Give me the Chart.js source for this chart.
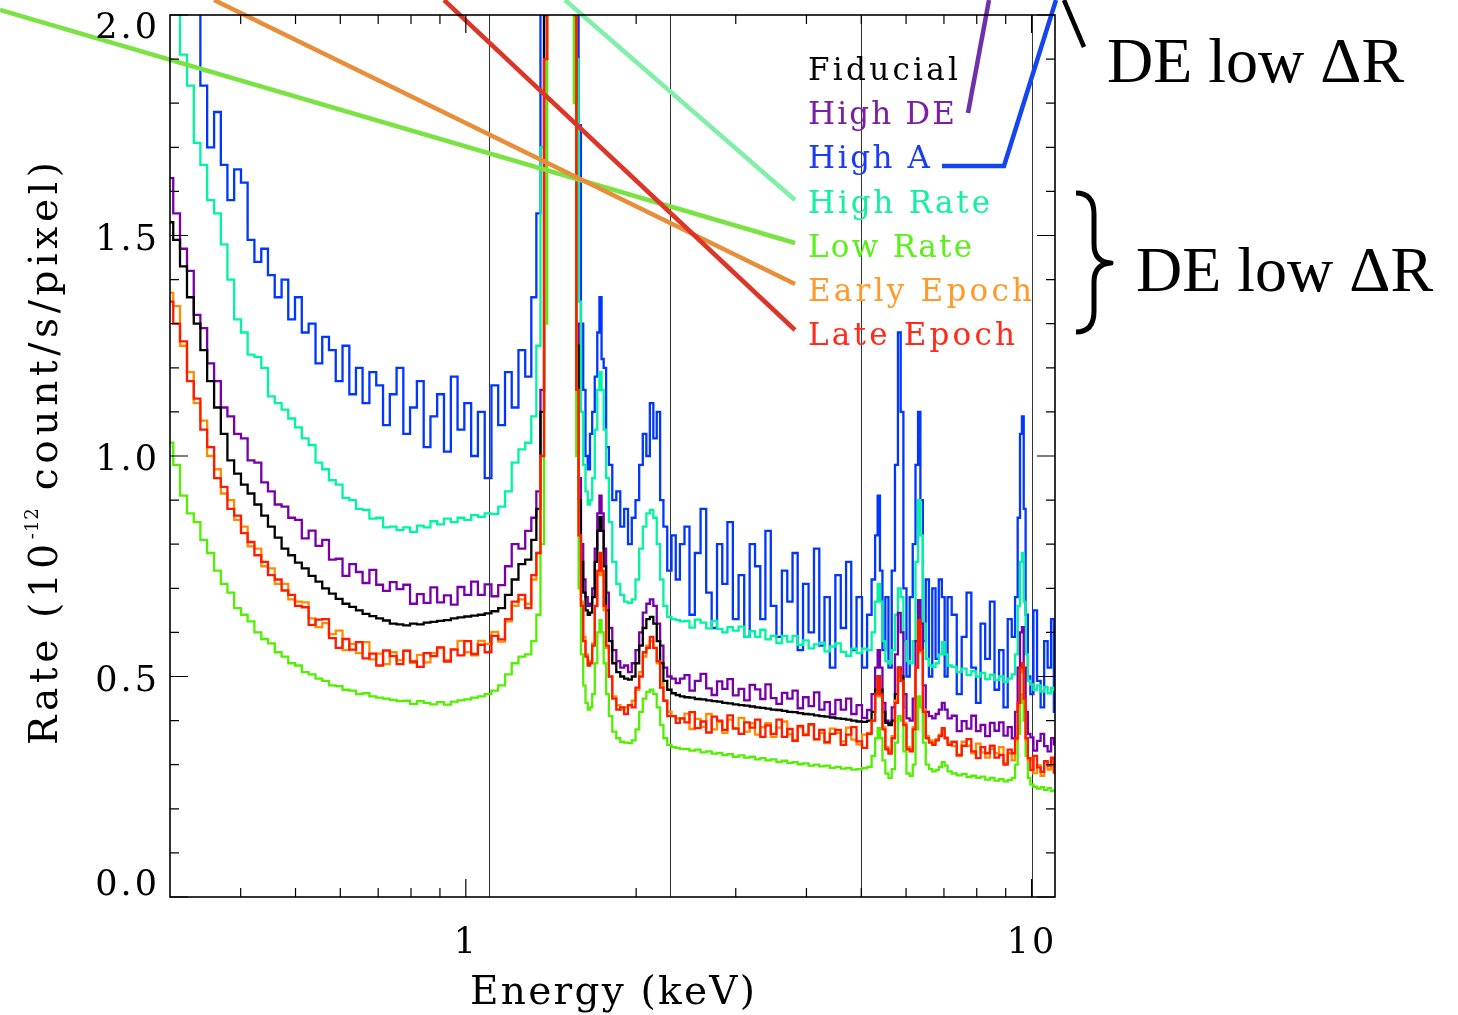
<!DOCTYPE html>
<html>
<head>
<meta charset="utf-8">
<script src="https://cdn.jsdelivr.net/npm/chart.js@4.4.0/dist/chart.umd.min.js"></script>
<style>
    html, body { margin: 0; padding: 0; background: #fff; }
    #wrap { width: 1458px; height: 1015px; }
</style>
</head>
<body>
<div id="wrap"><canvas id="spectrumChart" width="1458" height="1015"></canvas></div>
<script>
// energy grid (keV)
const energy = [
    0.300, 0.308, 0.317, 0.326, 0.335, 0.344, 0.354, 0.364, 0.374, 0.384,
    0.395, 0.406, 0.417, 0.429, 0.441, 0.453, 0.466, 0.479, 0.492, 0.506,
    0.520, 0.535, 0.550, 0.565, 0.581, 0.597, 0.614, 0.631, 0.648, 0.666,
    0.685, 0.704, 0.724, 0.744, 0.765, 0.786, 0.808, 0.831, 0.854, 0.878,
    0.902, 0.928, 0.954, 0.980, 1.008, 1.036, 1.065, 1.095, 1.125, 1.157,
    1.189, 1.222, 1.256, 1.291, 1.320,
    1.345, 1.365, 1.385, 1.400, 1.430, 1.460, 1.490, 1.520, 1.545, 1.560, 1.575, 1.590, 1.605, 1.620, 1.635, 1.650, 1.665,
    1.68, 1.70, 1.715, 1.73, 1.745, 1.76, 1.78, 1.80, 1.83, 1.86, 1.89, 1.92, 1.95, 1.98, 2.01, 2.04, 2.07, 2.10, 2.13, 2.16, 2.19, 2.22, 2.25, 2.29, 2.33, 2.37, 2.41,
    2.46, 2.51, 2.57, 2.63, 2.69, 2.75, 2.81, 2.87, 2.93, 3.00, 3.07, 3.14, 3.21, 3.28, 3.35, 3.42, 3.50, 3.58, 3.66, 3.74, 3.82, 3.90, 3.99, 4.08, 4.17, 4.26, 4.35, 4.45, 4.55, 4.65, 4.75, 4.85, 4.96, 5.07, 5.17,
    5.26, 5.32, 5.37, 5.42, 5.48, 5.55, 5.62, 5.70, 5.77, 5.84, 5.90, 5.97, 6.05, 6.13, 6.20, 6.27, 6.33, 6.39, 6.46, 6.54, 6.63, 6.72, 6.81, 6.90, 6.98, 7.06, 7.15,
    7.30, 7.45, 7.60, 7.75, 7.90, 8.05, 8.20, 8.36, 8.52, 8.68, 8.84, 9.00, 9.15, 9.30,
    9.40, 9.50, 9.58, 9.65, 9.72, 9.80, 9.90,
    10.0, 10.15, 10.3, 10.45, 10.6, 10.75, 10.9, 11.0
];

// rates, 10^-12 count/s/pixel
const fiducial = [
    1.53, 1.49, 1.43, 1.36, 1.30, 1.24, 1.17, 1.11, 1.05, 0.99, 0.96, 0.935, 0.915, 0.89, 0.865, 0.84, 0.815, 0.79, 0.775, 0.758,
    0.745, 0.728, 0.715, 0.70, 0.688, 0.676, 0.665, 0.658, 0.65, 0.642, 0.637, 0.632, 0.627, 0.62, 0.618, 0.616, 0.62, 0.618, 0.622, 0.624,
    0.626, 0.628, 0.632, 0.634, 0.636, 0.638, 0.64, 0.643, 0.648, 0.655, 0.685, 0.72, 0.755, 0.765, 0.81,
    0.88, 1.1, 2.0, 4, 12, 20, 20, 12, 4, 2.1, 1.25, 0.9, 0.76, 0.69, 0.65, 0.64, 0.645,
    0.68, 0.76, 0.83, 0.862, 0.83, 0.75, 0.65, 0.58, 0.53, 0.51, 0.50, 0.495, 0.493, 0.50, 0.53, 0.57, 0.61, 0.63, 0.635, 0.62, 0.58, 0.53, 0.49, 0.47, 0.462, 0.458, 0.455,
    0.453, 0.452, 0.449, 0.448, 0.446, 0.444, 0.443, 0.440, 0.439, 0.437, 0.435, 0.434, 0.432, 0.430, 0.429, 0.427, 0.425, 0.424, 0.422, 0.420, 0.419, 0.417, 0.415, 0.414, 0.412, 0.410, 0.409, 0.407, 0.405, 0.404, 0.402, 0.400, 0.398, 0.397, 0.40,
    0.42, 0.47, 0.50, 0.47, 0.42, 0.395, 0.39, 0.40, 0.46, 0.52, 0.50, 0.43, null, null, null, null, null, null, null, null, null, null, null, null, null, null, null,
    null, null, null, null, null, null, null, null, null, null, null, null, null, null,
    null, null, null, null, null, null, null,
    null, null, null, null, null, null, null, null
];
const highDE = [
    1.63, 1.55, 1.47, 1.42, 1.32, 1.29, 1.21, 1.17, 1.11, 1.09, 1.05, 1.04, 0.99, 0.985, 0.94, 0.92, 0.89, 0.885, 0.86, 0.855,
    0.813, 0.831, 0.796, 0.81, 0.765, 0.767, 0.728, 0.755, 0.737, 0.712, 0.742, 0.708, 0.694, 0.714, 0.698, 0.708, 0.665, 0.687, 0.667, 0.702,
    0.668, 0.684, 0.663, 0.703, 0.685, 0.715, 0.685, 0.709, 0.682, 0.707, 0.75, 0.80, 0.79, 0.83, 0.86,
    0.92, 1.15, 2.1, 4, 12, 20, 20, 12, 4, 2.2, 1.3, 0.95, 0.8, 0.72, 0.68, 0.66, 0.665,
    0.70, 0.79, 0.87, 0.91, 0.87, 0.79, 0.69, 0.61, 0.56, 0.535, 0.52, 0.525, 0.51, 0.53, 0.56, 0.60, 0.645, 0.665, 0.675, 0.66, 0.62, 0.57, 0.52, 0.50, 0.495, 0.485, 0.495,
    0.503, 0.468, 0.490, 0.506, 0.473, 0.458, 0.489, 0.472, 0.494, 0.457, 0.472, 0.446, 0.481, 0.471, 0.449, 0.482, 0.451, 0.438, 0.463, 0.450, 0.468, 0.428, 0.453, 0.433, 0.464, 0.425, 0.442, 0.414, 0.447, 0.425, 0.450, 0.415, 0.435, 0.406, 0.424,
    0.46, 0.52, 0.56, 0.52, 0.44, 0.40, 0.395, 0.43, 0.55, 0.644, 0.60, 0.46, 0.405, 0.40, 0.45, 0.58, 0.673, 0.62, 0.48, 0.42, 0.41, 0.405, 0.415, 0.425, 0.44, 0.425, 0.405,
    0.411, 0.376, 0.399, 0.382, 0.411, 0.376, 0.39, 0.365, 0.395, 0.377, 0.396, 0.366, 0.385, 0.36,
    0.42, 0.52, 0.60, 0.612, 0.52, 0.42, 0.37,
    0.362, 0.332, 0.354, 0.37, 0.342, 0.33, 0.36, 0.346
];
const highA = [
    2.3, 2.3, 2.3, 2.3, 2.2, 1.84, 1.70, 1.78, 1.66, 1.58, 1.65, 1.62, 1.49, 1.44, 1.47, 1.41, 1.36, 1.40, 1.31, 1.36,
    1.28, 1.30, 1.21, 1.27, 1.24, 1.17, 1.25, 1.14, 1.20, 1.12, 1.19, 1.16, 1.07, 1.14, 1.20, 1.05, 1.11, 1.17, 1.02, 1.09,
    1.14, 1.01, 1.18, 1.06, 1.12, 1.00, 1.10, 0.95, 1.16, 1.07, 1.19, 1.11, 1.24, 1.18, 1.36,
    1.55, 2.3, 4, 6, 12, 20, 20, 12, 6, 3.5, 2.2, 1.75, 1.3, 1.15, 1.0, 0.97, 1.05,
    1.10, 1.18, 1.28, 1.36, 1.22, 1.20, 1.02, 0.98, 0.90, 0.92, 0.84, 0.88, 0.80, 0.86, 0.90, 0.98, 1.05, 1.00, 1.12, 1.04, 1.10, 0.90, 0.84, 0.74, 0.82, 0.72, 0.80,
    0.84, 0.64, 0.78, 0.88, 0.69, 0.61, 0.80, 0.71, 0.85, 0.63, 0.73, 0.59, 0.80, 0.75, 0.63, 0.83, 0.66, 0.59, 0.74, 0.67, 0.78, 0.56, 0.71, 0.60, 0.79, 0.57, 0.68, 0.52, 0.73, 0.61, 0.76, 0.56, 0.68, 0.52, 0.64,
    0.72, 0.82, 0.91, 0.74, 0.56, 0.68, 0.52, 0.74, 0.98, 1.28, 1.10, 0.70, 0.50, 0.68, 0.80, 0.98, 1.10, 0.90, 0.58, 0.72, 0.50, 0.70, 0.54, 0.72, 0.68, 0.50, 0.68,
    0.64, 0.46, 0.59, 0.69, 0.52, 0.44, 0.62, 0.54, 0.67, 0.47, 0.56, 0.43, 0.63, 0.59,
    0.68, 0.86, 1.05, 1.09, 0.88, 0.64, 0.50,
    0.46, 0.65, 0.49, 0.43, 0.58, 0.52, 0.63, 0.42
];
const highRate = [
    2.05, 2.02, 1.91, 1.84, 1.71, 1.66, 1.58, 1.55, 1.48, 1.40, 1.31, 1.28, 1.23, 1.225, 1.20, 1.135, 1.12, 1.105, 1.085, 1.065,
    1.04, 1.025, 0.985, 0.97, 0.945, 0.935, 0.905, 0.90, 0.88, 0.878, 0.858, 0.86, 0.838, 0.84, 0.832, 0.838, 0.828, 0.842, 0.838, 0.852,
    0.845, 0.858, 0.85, 0.86, 0.855, 0.866, 0.862, 0.87, 0.868, 0.885, 0.92, 0.985, 1.015, 1.03, 1.09,
    1.25, 1.7, 3, 5, 12, 20, 20, 12, 5, 3, 1.9, 1.35, 1.1, 0.98, 0.92, 0.89, 0.90,
    0.95, 1.06, 1.15, 1.19, 1.15, 1.06, 0.95, 0.85, 0.76, 0.71, 0.685, 0.67, 0.667, 0.675, 0.72, 0.79, 0.84, 0.87, 0.878, 0.86, 0.80, 0.72, 0.66, 0.635, 0.63, 0.628, 0.625,
    0.626, 0.611, 0.629, 0.622, 0.609, 0.626, 0.608, 0.600, 0.612, 0.604, 0.613, 0.590, 0.603, 0.590, 0.606, 0.584, 0.592, 0.576, 0.592, 0.579, 0.592, 0.572, 0.582, 0.564, 0.573, 0.577, 0.557, 0.568, 0.575, 0.556, 0.547, 0.563, 0.553, 0.563, 0.56,
    0.60, 0.67, 0.71, 0.67, 0.58, 0.535, 0.53, 0.56, 0.64, 0.70, 0.68, 0.58, 0.535, 0.53, 0.58, 0.76, 0.90, 0.82, 0.62, 0.54, 0.525, 0.522, 0.53, 0.55, 0.578, 0.55, 0.525,
    0.522, 0.51, 0.518, 0.503, 0.512, 0.5, 0.508, 0.494, 0.504, 0.492, 0.5, 0.488, 0.495, 0.505,
    0.55, 0.66, 0.76, 0.78, 0.67, 0.55, 0.49,
    0.482, 0.47, 0.48, 0.466, 0.476, 0.462, 0.474, 0.47
];
const lowRate = [
    1.03, 0.98, 0.91, 0.87, 0.85, 0.81, 0.78, 0.74, 0.71, 0.69, 0.655, 0.64, 0.625, 0.60, 0.585, 0.575, 0.555, 0.545, 0.53, 0.525,
    0.51, 0.505, 0.495, 0.49, 0.48, 0.478, 0.47, 0.468, 0.46, 0.462, 0.455, 0.452, 0.45, 0.447, 0.444, 0.445, 0.438, 0.444, 0.44, 0.437,
    0.442, 0.436, 0.443, 0.446, 0.448, 0.452, 0.455, 0.46, 0.468, 0.48, 0.505, 0.53, 0.545, 0.55, 0.58,
    0.64, 0.8, 1.3, 3, 12, 20, 20, 12, 3.5, 1.8, 1.0, 0.7, 0.55, 0.48, 0.44, 0.425, 0.43,
    0.46, 0.53, 0.60, 0.628, 0.60, 0.53, 0.46, 0.41, 0.375, 0.36, 0.352, 0.35, 0.349, 0.355, 0.38, 0.42, 0.45, 0.465, 0.47, 0.46, 0.43, 0.39, 0.36, 0.345, 0.34, 0.338, 0.336,
    0.336, 0.332, 0.334, 0.328, 0.330, 0.325, 0.327, 0.322, 0.324, 0.318, 0.321, 0.316, 0.318, 0.312, 0.315, 0.310, 0.312, 0.306, 0.309, 0.304, 0.306, 0.301, 0.303, 0.298, 0.300, 0.296, 0.298, 0.293, 0.295, 0.291, 0.293, 0.289, 0.290, 0.292, 0.295,
    0.32, 0.36, 0.383, 0.36, 0.31, 0.28, 0.27, 0.29, 0.35, 0.41, 0.40, 0.33, 0.28, 0.275, 0.30, 0.38, 0.455, 0.43, 0.35, 0.30, 0.29, 0.285, 0.288, 0.295, 0.306, 0.298, 0.285,
    0.280, 0.276, 0.279, 0.272, 0.275, 0.27, 0.273, 0.266, 0.27, 0.264, 0.267, 0.262, 0.265, 0.27,
    0.30, 0.37, 0.44, 0.46, 0.40, 0.32, 0.27,
    0.255, 0.25, 0.246, 0.249, 0.243, 0.247, 0.24, 0.242
];
const earlyEpoch = [
    1.37, 1.34, 1.25, 1.19, 1.12, 1.08, 1.00, 0.97, 0.915, 0.90, 0.855, 0.84, 0.795, 0.79, 0.75, 0.745, 0.71, 0.71, 0.675, 0.67,
    0.668, 0.632, 0.612, 0.621, 0.596, 0.604, 0.56, 0.574, 0.553, 0.578, 0.539, 0.552, 0.528, 0.555, 0.537, 0.559, 0.531, 0.549, 0.532, 0.553,
    0.565, 0.537, 0.562, 0.581, 0.555, 0.548, 0.581, 0.574, 0.601, 0.579, 0.625, 0.66, 0.675, 0.665, 0.72,
    0.78, 1.0, 1.9, 4, 12, 20, 20, 12, 4, 2.0, 1.15, 0.82, 0.67, 0.59, 0.55, 0.53, 0.535,
    0.575, 0.66, 0.73, 0.77, 0.73, 0.65, 0.565, 0.50, 0.455, 0.435, 0.425, 0.43, 0.435, 0.445, 0.47, 0.51, 0.545, 0.57, 0.58, 0.565, 0.53, 0.485, 0.445, 0.42, 0.41, 0.405, 0.405,
    0.416, 0.381, 0.404, 0.386, 0.415, 0.380, 0.397, 0.372, 0.402, 0.383, 0.406, 0.375, 0.394, 0.368, 0.385, 0.394, 0.363, 0.384, 0.398, 0.369, 0.356, 0.385, 0.370, 0.390, 0.357, 0.372, 0.349, 0.382, 0.372, 0.353, 0.384, 0.357, 0.346, 0.368, 0.372,
    0.40, 0.455, 0.49, 0.455, 0.385, 0.34, 0.33, 0.365, 0.445, 0.51, 0.49, 0.395, 0.34, 0.335, 0.385, 0.52, 0.615, 0.555, 0.425, 0.365, 0.355, 0.35, 0.358, 0.368, 0.38, 0.362, 0.35,
    0.342, 0.32, 0.352, 0.343, 0.326, 0.348, 0.328, 0.316, 0.336, 0.326, 0.34, 0.304, 0.326, 0.31,
    0.355, 0.43, 0.51, 0.52, 0.445, 0.355, 0.31,
    0.315, 0.281, 0.299, 0.275, 0.307, 0.289, 0.313, 0.283
];
const lateEpoch = [
    1.35, 1.30, 1.26, 1.17, 1.13, 1.06, 1.02, 0.95, 0.93, 0.88, 0.865, 0.825, 0.805, 0.775, 0.76, 0.73, 0.72, 0.695, 0.685, 0.66,
    0.657, 0.617, 0.629, 0.63, 0.587, 0.565, 0.585, 0.561, 0.578, 0.541, 0.552, 0.525, 0.559, 0.546, 0.528, 0.558, 0.534, 0.522, 0.553, 0.546,
    0.566, 0.534, 0.561, 0.548, 0.58, 0.551, 0.572, 0.555, 0.592, 0.584, 0.63, 0.67, 0.685, 0.655, 0.73,
    0.78, 1.0, 1.9, 4, 12, 20, 20, 12, 4, 2.0, 1.15, 0.82, 0.66, 0.58, 0.545, 0.525, 0.53,
    0.57, 0.66, 0.74, 0.78, 0.74, 0.66, 0.57, 0.50, 0.45, 0.425, 0.43, 0.415, 0.435, 0.43, 0.475, 0.50, 0.555, 0.565, 0.59, 0.565, 0.535, 0.475, 0.445, 0.41, 0.41, 0.395, 0.405,
    0.396, 0.419, 0.383, 0.398, 0.373, 0.409, 0.400, 0.379, 0.412, 0.382, 0.370, 0.396, 0.384, 0.402, 0.363, 0.389, 0.370, 0.402, 0.363, 0.381, 0.354, 0.388, 0.367, 0.392, 0.358, 0.379, 0.351, 0.370, 0.379, 0.345, 0.368, 0.385, 0.353, 0.338, 0.370,
    0.40, 0.46, 0.50, 0.46, 0.38, 0.335, 0.325, 0.36, 0.44, 0.52, 0.49, 0.39, 0.335, 0.33, 0.38, 0.52, 0.628, 0.56, 0.42, 0.36, 0.35, 0.345, 0.355, 0.365, 0.383, 0.36, 0.345,
    0.352, 0.322, 0.343, 0.358, 0.33, 0.315, 0.34, 0.326, 0.343, 0.316, 0.322, 0.30, 0.334, 0.326,
    0.36, 0.44, 0.52, 0.53, 0.45, 0.36, 0.315,
    0.288, 0.32, 0.294, 0.284, 0.308, 0.298, 0.316, 0.282
];

const seriesNames = ['Fiducial', 'High DE', 'High A', 'High Rate', 'Low Rate', 'Early Epoch', 'Late Epoch'];
const yTickLabels = [0.0, 0.5, 1.0, 1.5, 2.0];
const xTickLabels = [1, 10];
const xMinorTicks = [0.4, 0.5, 0.6, 0.7, 0.8, 0.9, 2, 3, 4, 5, 6, 7, 8, 9];
const bandEdges = [1.1, 2.3, 5.0, 10.0];

const PLOT_FONT = '"DejaVu Serif", "Liberation Serif", serif';
const NOTE_FONT = '"Liberation Serif", "DejaVu Serif", serif';

function toPoints(values) {
    return energy.map(function (e, i) {
        return { x: e, y: values[i] };
    });
}

function makeSet(label, values, color, order) {
    return {
        label: label,
        data: toPoints(values),
        borderColor: color,
        borderWidth: 2.3,
        pointRadius: 0,
        stepped: 'middle',
        fill: false,
        clip: 0,
        order: order
    };
}

// text with extra gaps between glyphs, the way the old plot fonts look
function spacedWidth(ctx, text, gap) {
    let w = 0;
    for (const ch of text) w += ctx.measureText(ch).width + gap;
    return w - gap;
}
function drawSpaced(ctx, text, x, y, gap) {
    let cx = x;
    for (const ch of text) {
        ctx.fillText(ch, cx, y);
        cx += ctx.measureText(ch).width + gap;
    }
}
function drawFit(ctx, text, x, y, width) {
    const n = [...text].length;
    const gap = n > 1 ? (width - spacedWidth(ctx, text, 0)) / (n - 1) : 0;
    drawSpaced(ctx, text, x, y, gap);
}

const legendEntries = [
    { text: 'Fiducial', color: '#000000', width: 150 },
    { text: 'High DE', color: '#7b1fa8', width: 147 },
    { text: 'High A', color: '#1a3cf5', width: 122 },
    { text: 'High Rate', color: '#14f0a0', width: 182 },
    { text: 'Low Rate', color: '#5cf01a', width: 164 },
    { text: 'Early Epoch', color: '#ff9a2a', width: 224 },
    { text: 'Late Epoch', color: '#ff2a1a', width: 207 }
];

const idlFrame = {
    id: 'idlFrame',
    beforeDatasetsDraw(chart) {
        const ctx = chart.ctx;
        const a = chart.chartArea;
        const xs = chart.scales.x;
        ctx.save();
        ctx.strokeStyle = '#333';
        ctx.lineWidth = 1;
        bandEdges.forEach(function (e) {
            const px = Math.round(xs.getPixelForValue(e)) + 0.5;
            ctx.beginPath();
            ctx.moveTo(px, a.top);
            ctx.lineTo(px, a.bottom);
            ctx.stroke();
        });
        ctx.restore();
    },
    afterDatasetsDraw(chart) {
        const ctx = chart.ctx;
        const a = chart.chartArea;
        const xs = chart.scales.x;
        const ys = chart.scales.y;
        ctx.save();

        // pointer lines from the legend
        ctx.lineCap = 'butt';
        ctx.lineWidth = 4.5;
        const pointers = [
            { color: '#80f0a8', pts: [[795, 200], [565, 0]] },
            { color: '#7ae242', pts: [[795, 243], [0, 10]] },
            { color: '#e88e3a', pts: [[795, 284], [214, 0]] },
            { color: '#dc3628', pts: [[795, 330], [444, 0]] },
            { color: '#7030a8', pts: [[968, 113], [989, 0]] },
            { color: '#1446f0', pts: [[942, 166], [1004, 166], [1056, 0]] },
            { color: '#000000', pts: [[1064, 0], [1084, 47]] }
        ];
        pointers.forEach(function (p) {
            ctx.strokeStyle = p.color;
            ctx.beginPath();
            ctx.moveTo(p.pts[0][0], p.pts[0][1]);
            for (let i = 1; i < p.pts.length; i++) ctx.lineTo(p.pts[i][0], p.pts[i][1]);
            ctx.stroke();
        });

        // frame
        ctx.strokeStyle = '#000';
        ctx.lineWidth = 1.6;
        ctx.strokeRect(a.left, a.top, a.right - a.left, a.bottom - a.top);

        // ticks, pointing inward on all four sides
        ctx.lineWidth = 1.2;
        function xTick(v, len) {
            const px = xs.getPixelForValue(v);
            ctx.beginPath();
            ctx.moveTo(px, a.bottom); ctx.lineTo(px, a.bottom - len);
            ctx.moveTo(px, a.top); ctx.lineTo(px, a.top + len);
            ctx.stroke();
        }
        function yTick(v, len) {
            const py = ys.getPixelForValue(v);
            ctx.beginPath();
            ctx.moveTo(a.left, py); ctx.lineTo(a.left + len, py);
            ctx.moveTo(a.right, py); ctx.lineTo(a.right - len, py);
            ctx.stroke();
        }
        xMinorTicks.forEach(function (v) { xTick(v, 9); });
        xTickLabels.forEach(function (v) { xTick(v, 18); });
        for (let k = 1; k < 20; k++) {
            if (k % 5 !== 0) yTick(k / 10, 9);
        }
        yTickLabels.forEach(function (v) { yTick(v, 18); });

        // tick labels
        ctx.fillStyle = '#000';
        ctx.font = '35px ' + PLOT_FONT;
        ctx.textBaseline = 'alphabetic';
        const gap = 3;
        yTickLabels.forEach(function (v) {
            const txt = v.toFixed(1);
            let base = ys.getPixelForValue(v) + 14;
            if (v === ys.max) base = a.top + 23;
            if (v === ys.min) base = a.bottom - 2;
            const w = spacedWidth(ctx, txt, gap);
            drawSpaced(ctx, txt, 157 - w, base, gap);
        });
        xTickLabels.forEach(function (v) {
            const txt = String(v);
            const w = spacedWidth(ctx, txt, gap);
            drawSpaced(ctx, txt, xs.getPixelForValue(v) - w / 2 - 1, a.bottom + 56, gap);
        });

        // axis titles
        ctx.font = '39px ' + PLOT_FONT;
        drawFit(ctx, 'Energy (keV)', 470, 1004, 285);

        ctx.save();
        ctx.translate(57, 745);
        ctx.rotate(-Math.PI / 2);
        const parts = [
            { t: 'Rate (10', size: 39, dy: 0 },
            { t: '-12', size: 18, dy: -19 },
            { t: ' count/s/pixel)', size: 39, dy: 0 }
        ];
        let natural = 0, count = 0;
        parts.forEach(function (p) {
            ctx.font = p.size + 'px ' + PLOT_FONT;
            natural += spacedWidth(ctx, p.t, 0);
            if (p.dy === 0) count += [...p.t].length;
        });
        const tgap = (580 - natural) / (count - 1);
        let cx = 0;
        parts.forEach(function (p) {
            ctx.font = p.size + 'px ' + PLOT_FONT;
            const g = p.dy === 0 ? tgap : 1;
            for (const ch of p.t) {
                ctx.fillText(ch, cx, p.dy);
                cx += ctx.measureText(ch).width + g;
            }
        });
        ctx.restore();

        // legend text
        ctx.font = '31px ' + PLOT_FONT;
        legendEntries.forEach(function (e, i) {
            ctx.fillStyle = e.color;
            drawFit(ctx, e.text, 808, 80 + i * 44.2, e.width);
        });

        // group notes outside the frame
        ctx.fillStyle = '#000';
        ctx.font = '64px ' + NOTE_FONT;
        ctx.fillText('DE low \u0394R', 1107, 82);
        ctx.fillText('DE low \u0394R', 1136, 291);

        // curly brace
        ctx.strokeStyle = '#000';
        ctx.lineWidth = 5;
        ctx.lineJoin = 'round';
        ctx.beginPath();
        ctx.moveTo(1076, 193);
        ctx.quadraticCurveTo(1094, 193, 1094, 214);
        ctx.lineTo(1094, 244);
        ctx.quadraticCurveTo(1094, 262, 1111, 263);
        ctx.quadraticCurveTo(1094, 264, 1094, 282);
        ctx.lineTo(1094, 311);
        ctx.quadraticCurveTo(1094, 332, 1076, 332);
        ctx.stroke();

        ctx.restore();
    }
};

const ctx = document.getElementById('spectrumChart').getContext('2d');
const spectrumChart = new Chart(ctx, {
    type: 'line',
    data: {
        datasets: [
            makeSet(seriesNames[6], lateEpoch, '#ff1a00', 1),
            makeSet(seriesNames[5], earlyEpoch, '#ff8c00', 2),
            makeSet(seriesNames[4], lowRate, '#52f000', 3),
            makeSet(seriesNames[0], fiducial, '#000000', 4),
            makeSet(seriesNames[1], highDE, '#7800aa', 5),
            makeSet(seriesNames[3], highRate, '#00f5a0', 6),
            makeSet(seriesNames[2], highA, '#0036ff', 7)
        ]
    },
    options: {
        responsive: false,
        animation: false,
        events: [],
        layout: {
            padding: { left: 170, right: 403, top: 15, bottom: 118 }
        },
        plugins: {
            legend: { display: false },
            tooltip: { enabled: false }
        },
        scales: {
            x: { type: 'logarithmic', min: 0.3, max: 11, display: false },
            y: { type: 'linear', min: 0, max: 2, display: false }
        }
    },
    plugins: [idlFrame]
});
</script>
</body>
</html>
